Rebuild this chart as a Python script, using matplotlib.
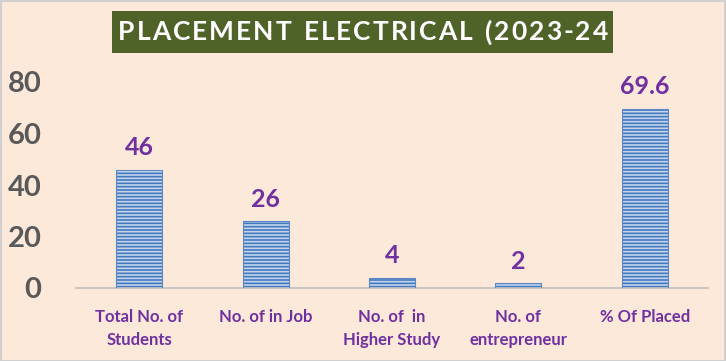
import matplotlib
matplotlib.use("Agg")
import matplotlib.pyplot as plt
from matplotlib.patches import Rectangle

categories = ["Total No. of\nStudents", "No. of in Job", "No. of  in\nHigher Study", "No. of\nentrepreneur", "% Of Placed"]
values = [46, 26, 4, 2, 69.6]
value_labels = ["46", "26", "4", "2", "69.6"]
yticks = [0, 20, 40, 60, 80]
title = "PLACEMENT ELECTRICAL (2023-24"

bg = "#FDE9DA"
purple = "#7030A0"
plt.rcParams['font.family'] = ['Lato', 'DejaVu Sans']

fig = plt.figure(figsize=(7.26, 3.61), dpi=100, facecolor=bg)
ax = fig.add_axes([76/726, 73/361, (708-76)/726, (288-82)/361])
ax.set_facecolor(bg)

x = range(len(categories))
plt.rcParams['hatch.linewidth'] = 1.2
ax.bar(x, values, width=0.365, color="#4579BE", edgecolor="#C3D5EE",
       hatch="-----", linewidth=0.0, zorder=2)
ax.bar(x, values, width=0.365, color="none", edgecolor="#5A88C4", linewidth=0.8, zorder=3)

for xi, v, lab in zip(x, values, value_labels):
    ax.text(xi, v + 4, lab, ha="center", va="bottom", color=purple,
            fontsize=18, fontweight="bold")

ax.set_xlim(-0.5, len(categories) - 0.5)
ax.set_ylim(0, 80)
ax.set_yticks(yticks)
ax.set_yticklabels([str(t) for t in yticks], fontsize=21, fontweight="bold", color="#595959")
ax.set_xticks(list(x))
ax.set_xticklabels(categories, fontsize=12, fontweight="bold", color=purple, linespacing=1.55)
ax.tick_params(axis="both", length=0)
ax.tick_params(axis="y", pad=25)
ax.tick_params(axis="x", pad=15)
for s in ["top", "right", "left"]:
    ax.spines[s].set_visible(False)
ax.spines["bottom"].set_color("#BFBFBF")
ax.spines["bottom"].set_linewidth(1.2)

# title box
fig.patches.append(Rectangle((112/726, 1 - 53/361), (613-112)/726, (53-11)/361,
                             transform=fig.transFigure, facecolor="#4F6228",
                             edgecolor="none", zorder=5))
# letter-spaced title drawn char by char
renderer = fig.canvas.get_renderer()
tracking = 2.0  # px between letters
kw = dict(color="white", fontsize=19, fontweight="bold", va="center", ha="left", zorder=6)
widths = []
for ch in title:
    t = fig.text(0, 0, ch if ch != " " else "a", **kw)
    w = t.get_window_extent(renderer).width
    if ch == " ":
        w *= 0.6
    widths.append(w)
    t.remove()
total = sum(widths) + tracking * (len(title) - 1)
xpos = 363 - total / 2
for ch, w in zip(title, widths):
    if ch != " ":
        fig.text(xpos / 726, 1 - 32/361, ch, **kw)
    xpos += w + tracking

# figure border
fig.patches.append(Rectangle((0.001, 0.001), 0.997, 0.996, transform=fig.transFigure,
                             facecolor="none", edgecolor="#D0D0D0", linewidth=1.5, zorder=10))

fig.savefig("out.png", dpi=100, facecolor=bg)
